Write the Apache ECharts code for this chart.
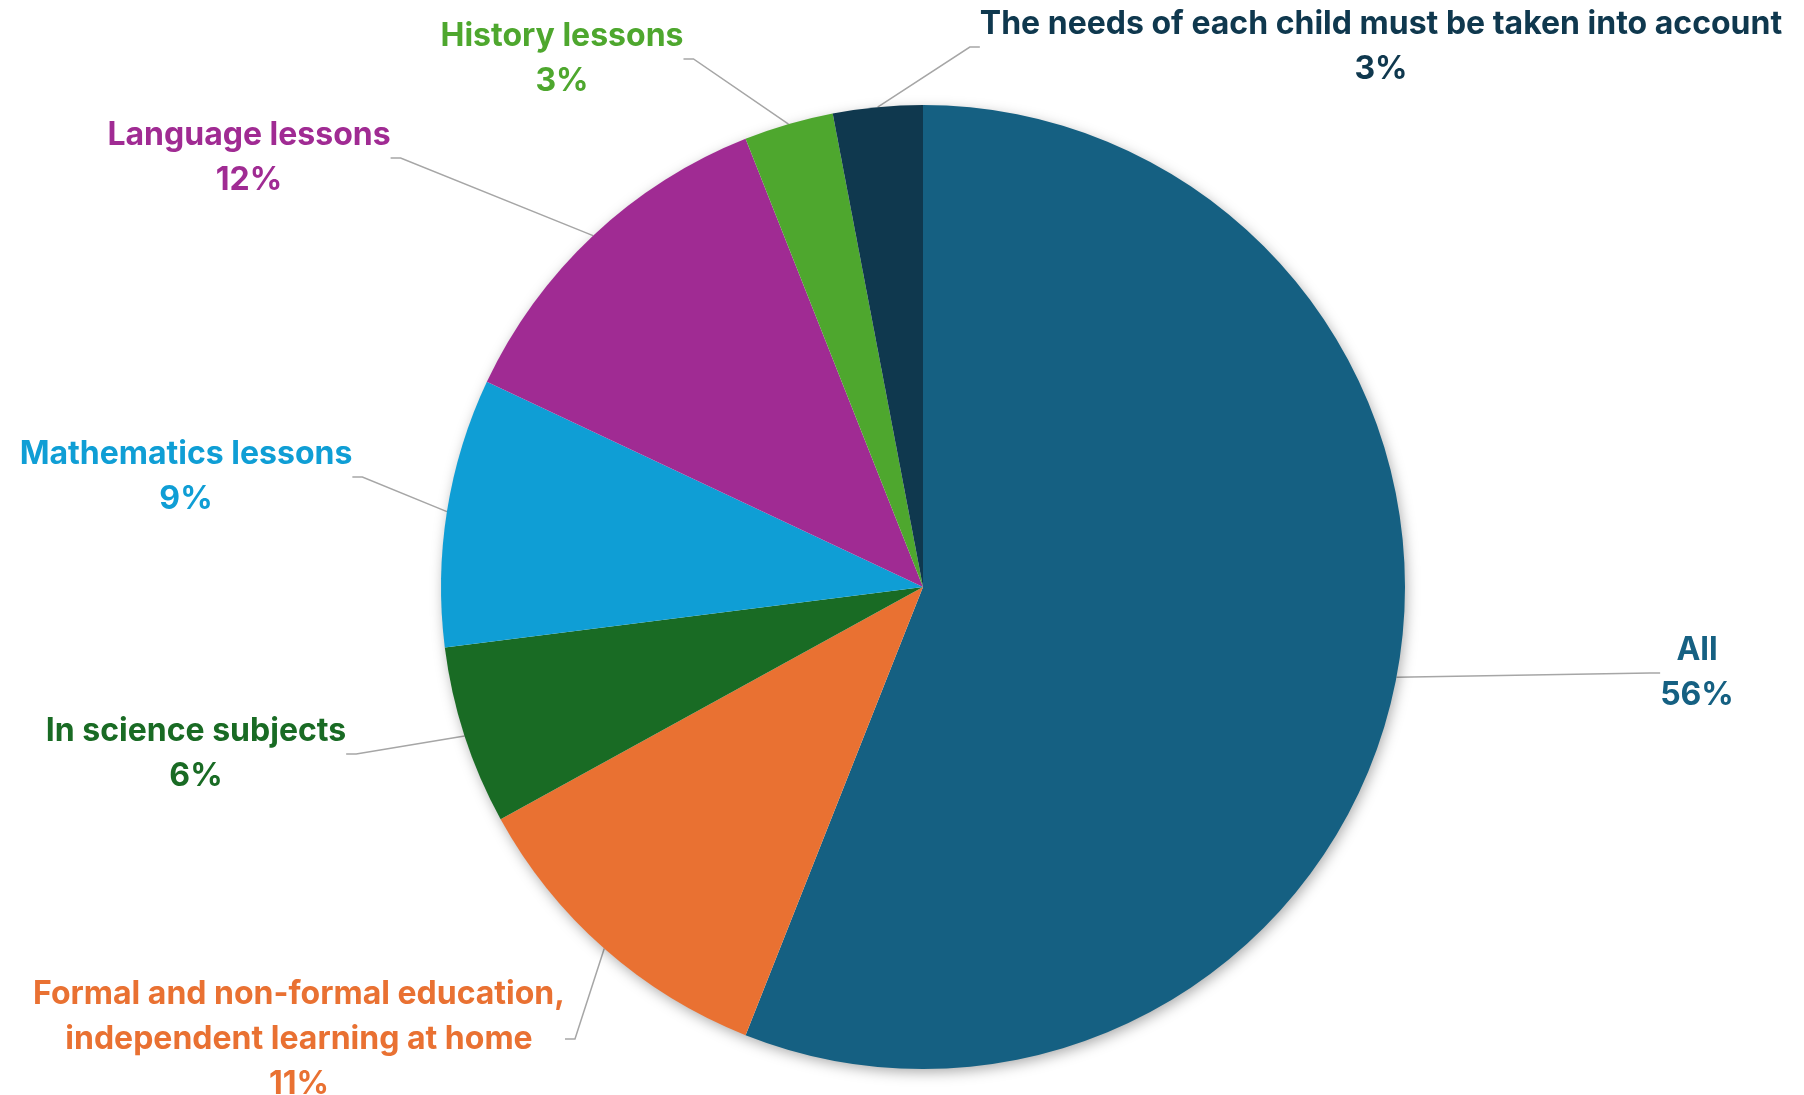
<!DOCTYPE html>
<html>
<head>
<meta charset="utf-8">
<script src="https://cdn.jsdelivr.net/npm/echarts@6/dist/echarts.min.js"></script>
<style>
  html, body { margin: 0; padding: 0; background: #ffffff; }
  #chart { width: 1804px; height: 1095px; }
</style>
</head>
<body>
<div id="chart"></div>
<script>
// Answers, in clockwise order from twelve o'clock
const categories = [
  'All',
  'Formal and non-formal education,\nindependent learning at home',
  'In science subjects',
  'Mathematics lessons',
  'Language lessons',
  'History lessons',
  'The needs of each child must be taken into account'
];
const shares = [56, 11, 6, 9, 12, 3, 3];

const sliceColors = ['#156082', '#E97132', '#196B24', '#0F9ED5', '#A02B93', '#4EA72E', '#0F384E'];

// Label block centres (px) for each slice's callout
const labelSpots = [
  [1697, 673],
  [299, 1039],
  [196, 754],
  [186, 477],
  [249, 158],
  [562, 59],
  [1381, 47]
];

const chart = echarts.init(document.getElementById('chart'), null, { renderer: 'canvas' });

const pieData = categories.map((name, i) => ({
  name: name,
  value: shares[i],
  itemStyle: { color: sliceColors[i] },
  label: { color: sliceColors[i] }
}));

chart.setOption({
  backgroundColor: '#ffffff',
  animation: false,
  series: [
    {
      // soft drop shadow beneath the whole disc
      type: 'pie',
      silent: true,
      center: [923, 587],
      radius: 481,
      label: { show: false },
      labelLine: { show: false },
      itemStyle: {
        color: '#ffffff',
        shadowBlur: 14,
        shadowOffsetX: 2,
        shadowOffsetY: 4,
        shadowColor: 'rgba(0,0,0,0.35)'
      },
      data: [{ value: 1, name: '' }]
    },
    {
      type: 'pie',
      center: [923, 587],
      radius: 482,
      startAngle: 90,
      clockwise: true,
      percentPrecision: 0,
      itemStyle: { borderWidth: 0 },
      label: {
        show: true,
        position: 'outside',
        formatter: '{b}\n{d}%',
        fontFamily: 'Inter, "Noto Sans", sans-serif',
        fontWeight: 'bold',
        fontSize: 32,
        lineHeight: 45,
        align: 'center'
      },
      labelLine: {
        show: true,
        length: 20,
        length2: 10,
        lineStyle: { color: '#A6A6A6', width: 1.5 }
      },
      labelLayout: function (params) {
        const p = labelSpots[params.dataIndex];
        return { x: p[0], y: p[1], align: 'center', verticalAlign: 'middle' };
      },
      data: pieData
    }
  ]
});
</script>
</body>
</html>
